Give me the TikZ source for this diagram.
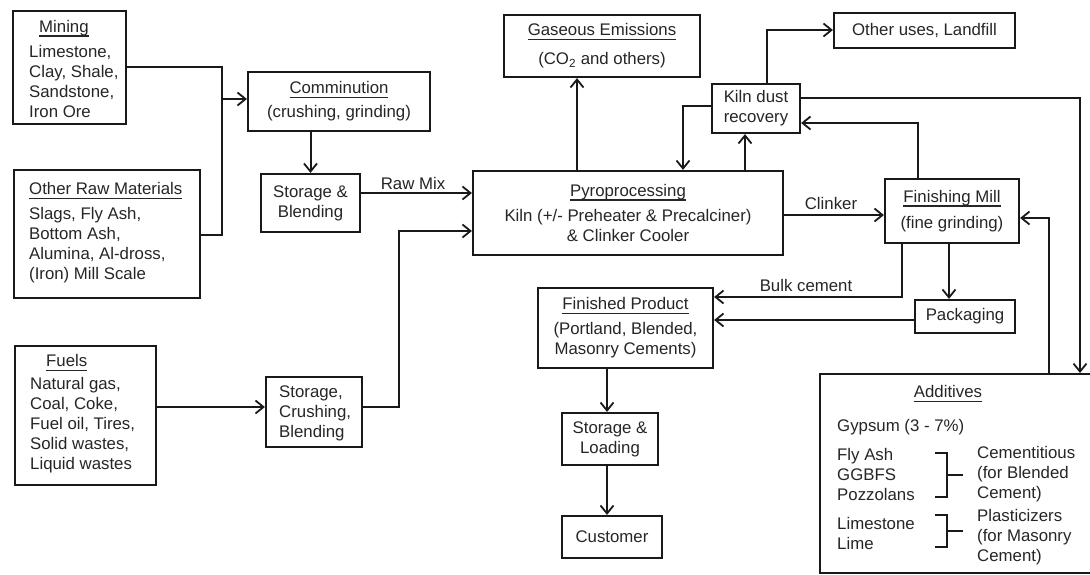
\documentclass[tikz,border=0pt]{standalone}
\usepackage{fontspec}
\setmainfont{Liberation Sans}
\usetikzlibrary{arrows.meta}
\newcommand\myfs{\fontsize{16.8}{20}\selectfont}
\newcommand\ttl[1]{\leavevmode\setbox0=\hbox{#1}\rlap{\rule[-4.5pt]{\wd0}{1.6pt}}\box0}
\begin{document}
\begin{tikzpicture}[x=1pt,y=-1pt,
  box/.style={draw=black!90, line width=2.2pt, inner sep=0pt, align=center, font=\myfs, text=black!85},
  txt/.style={inner sep=0pt, font=\myfs, text=black!85},
  lab/.style={inner sep=0pt, font=\myfs, text=black!85},
  ln/.style={line width=2pt, draw=black!90},
  arr/.style={line width=2pt, draw=black!90, -{Straight Barb[length=8pt,width=13pt,line width=1.8pt]}}]
\useasboundingbox[fill=white] (0,0) rectangle (1090,574);

% boxes
\node[box, minimum width=113, minimum height=113] (mining) at (69.5,67.5) {};
\node[txt, align=left, anchor=west] (miningt) at (29,69) {\hspace*{10pt}\ttl{Mining}\\[5pt]Limestone,\\Clay, Shale,\\Sandstone,\\Iron Ore};

\node[box, minimum width=186, minimum height=128] (other) at (107,234) {};
\node[txt, align=left, anchor=west] (othert) at (29,233) {\ttl{Other Raw Materials}\\[5pt]Slags, Fly Ash,\\Bottom Ash,\\Alumina, Al-dross,\\(Iron) Mill Scale};

\node[box, minimum width=141, minimum height=139] (fuels) at (85.5,415.5) {};
\node[txt, align=left, anchor=west] (fuelst) at (30,414) {\hspace*{16pt}\ttl{Fuels}\\[3pt]Natural gas,\\Coal, Coke,\\Fuel oil, Tires,\\Solid wastes,\\Liquid wastes};

\node[box, minimum width=182, minimum height=59] (comm) at (339,101.5) {\ttl{Comminution}\\[4pt](crushing, grinding)};
\node[box, minimum width=99, minimum height=58] (sb) at (310.5,203) {Storage \&\\Blending};
\node[box, minimum width=96, minimum height=70] (scb) at (314,412) {};
\node[txt, align=left, anchor=west] (scbt) at (279,413) {Storage,\\Crushing,\\Blending};
\node[box, minimum width=310, minimum height=84] (pyro) at (628,213) {\ttl{Pyroprocessing}\\[5pt]Kiln (+/- Preheater \& Precalciner)\\\& Clinker Cooler};
\node[box, minimum width=196, minimum height=62] (gas) at (602,46) {\ttl{Gaseous Emissions}\\[9pt](CO\textsubscript{2} and others)};
\node[box, minimum width=88, minimum height=49] (kd) at (756,108.5) {Kiln dust\\recovery};
\node[box, minimum width=181, minimum height=35] (oth) at (924.5,30.5) {Other uses, Landfill};
\node[box, minimum width=134, minimum height=64] (fm) at (952,211) {\ttl{Finishing Mill}\\[6pt](fine grinding)};
\node[box, minimum width=100, minimum height=33] (pack) at (965,316.5) {Packaging};
\node[box, minimum width=175, minimum height=80] (fp) at (625.5,328) {\ttl{Finished Product}\\[5pt](Portland, Blended,\\Masonry Cements)};
\node[box, minimum width=96, minimum height=52] (sl) at (610,439) {Storage \&\\Loading};
\node[box, minimum width=100, minimum height=42] (cust) at (612,537) {Customer};
\node[box, minimum width=285, minimum height=199, anchor=north west] (add) at (819,373) {};

% additives content
\node[txt] (addt) at (948,394) {\ttl{Additives}};
\node[txt, anchor=west] (gyp) at (837,427) {Gypsum (3 - 7\%)};
\node[txt, align=left, anchor=west] (fly) at (837,474) {Fly Ash\\GGBFS\\Pozzolans};
\node[txt, align=left, anchor=west] (cem) at (977,474) {Cementitious\\(for Blended\\Cement)};
\node[txt, align=left, anchor=west] (lime) at (837,533) {Limestone\\Lime};
\node[txt, align=left, anchor=west] (plas) at (977,537) {Plasticizers\\(for Masonry\\Cement)};
\draw[ln] (935,453) -- (947,453) -- (947,497) -- (935,497) (947,475) -- (963,475);
\draw[ln] (935,515) -- (947,515) -- (947,547) -- (935,547) (947,531) -- (963,531);

% connectors
\coordinate (j1) at (222,99);
\draw[ln] (mining.east |- 0,67) -- (222,67) -- (222,235) -- (other.east |- 0,235);
\draw[arr] (j1) -- (comm.west |- j1);
\draw[arr] (comm.south -| sb.north) -- (sb.north);
\draw[arr] (sb.east |- 0,193) -- (pyro.west |- 0,193);
\node[lab] (rawmix) at (413,183) {Raw Mix};
\draw[arr] (fuels.east |- 0,407) -- (scb.west |- 0,407);
\draw[arr] (scb.east |- 0,407) -- (399,407) -- (399,231) -- (pyro.west |- 0,231);
\draw[arr] (pyro.north -| 577,0) -- (gas.south -| 577,0);
\draw[arr] (kd.west |- 0,106) -- (683,106) -- (pyro.north -| 683,0);
\draw[arr] (pyro.north -| 745,0) -- (kd.south -| 745,0);
\draw[arr] (kd.north -| 767,0) -- (767,30) -- (oth.west |- 0,30);
\draw[arr] (kd.east |- 0,98) -- (1080,98) -- (add.north -| 1080,0);
\draw[arr] (fm.north -| 918,0) -- (918,123) -- (kd.east |- 0,123);
\draw[arr] (pyro.east |- 0,215) -- (fm.west |- 0,215);
\node[lab] (clk) at (831,203) {Clinker};
\draw[arr] (add.north -| 1049,0) -- (1049,218) -- (fm.east |- 0,218);
\draw[arr] (fm.south -| 902,0) -- (902,297) -- (fp.east |- 0,297);
\node[lab] (bulk) at (806,285) {Bulk cement};
\draw[arr] (fm.south -| 949,0) -- (pack.north -| 949,0);
\draw[arr] (pack.west |- 0,320) -- (fp.east |- 0,320);
\draw[arr] (fp.south -| 607,0) -- (sl.north -| 607,0);
\draw[arr] (sl.south -| 607,0) -- (cust.north -| 607,0);
\end{tikzpicture}
\end{document}
